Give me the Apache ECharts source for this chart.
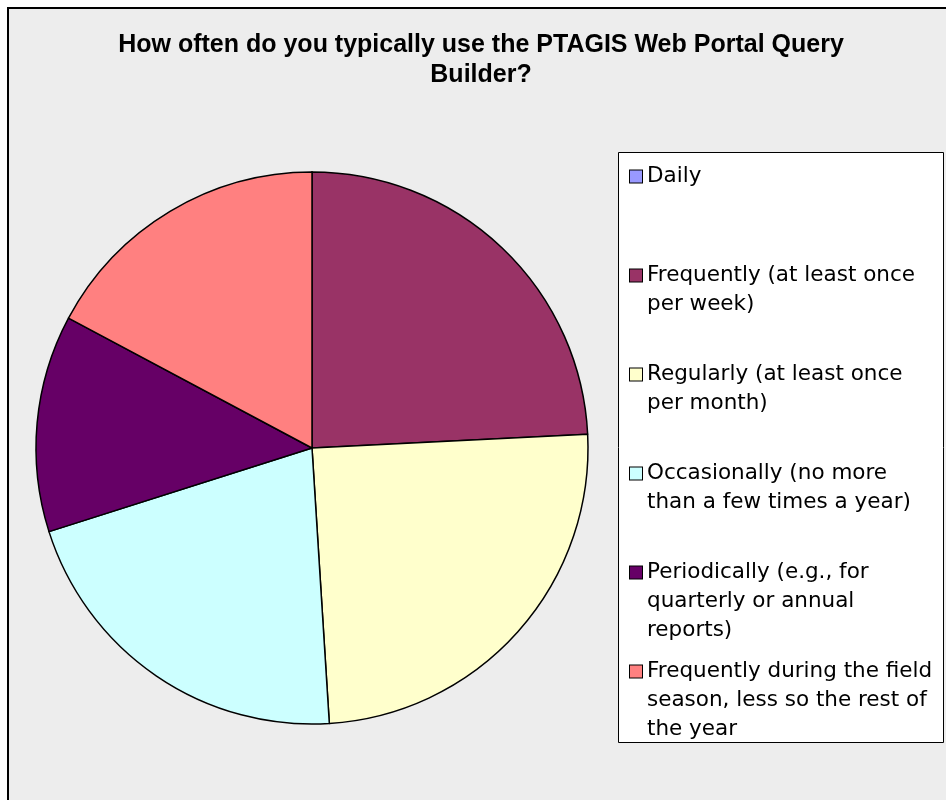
<!DOCTYPE html>
<html>
<head>
<meta charset="utf-8">
<script src="https://cdn.jsdelivr.net/npm/echarts@6/dist/echarts.min.js"></script>
<style>
html,body{margin:0;padding:0;background:#fff;}
#chart{width:946px;height:800px;}
</style>
</head>
<body>
<div id="chart"></div>
<script>
const titleText = 'How often do you typically use the PTAGIS Web Portal Query\nBuilder?';
const categories = [
  'Daily',
  'Frequently (at least once per week)',
  'Regularly (at least once per month)',
  'Occasionally (no more than a few times a year)',
  'Periodically (e.g., for quarterly or annual reports)',
  'Frequently during the field season, less so the rest of the year'
];
const legendLines = [
  ['Daily'],
  ['Frequently (at least once', 'per week)'],
  ['Regularly (at least once', 'per month)'],
  ['Occasionally (no more', 'than a few times a year)'],
  ['Periodically (e.g., for', 'quarterly or annual', 'reports)'],
  ['Frequently during the field', 'season, less so the rest of', 'the year']
];
const values = [0, 24.2, 24.8, 21.1, 12.7, 17.2];
const colors = ['#9999FF', '#993366', '#FFFFCC', '#CCFFFF', '#660066', '#FF8080'];

const chart = echarts.init(document.getElementById('chart'), null, {renderer: 'canvas'});

const legendFont = 'DejaVu Sans';
const rich = {
  gap: {width: 5, height: 12},
  ind: {width: 17, height: 12},
  t: {fontSize: 21.5, lineHeight: 29, fontFamily: legendFont, color: '#000'}
};
colors.forEach((c, i) => {
  rich['s' + i] = {width: 12, height: 12, backgroundColor: c, borderColor: '#000', borderWidth: 1, lineHeight: 29};
});

const option = {
  backgroundColor: '#ffffff',
  animation: false,
  graphic: [
    {type: 'rect', z: -10, shape: {x: 8, y: 8, width: 960, height: 820},
     style: {fill: '#ededed', stroke: '#000', lineWidth: 2}},
    {type: 'rect', z: 0, shape: {x: 618.5, y: 152.5, width: 325, height: 590},
     style: {fill: '#ffffff', stroke: '#000', lineWidth: 1}}
  ],
  title: {
    text: titleText,
    left: 481,
    textAlign: 'center',
    top: 30,
    padding: 0,
    textStyle: {fontFamily: 'Liberation Sans', fontWeight: 'bold', fontSize: 25, lineHeight: 30, color: '#000'}
  },
  legend: {
    orient: 'vertical',
    left: 618,
    top: 152,
    padding: [10, 10, 6, 7],
    itemGap: 12,
    itemWidth: 0,
    itemHeight: 0,
    icon: 'rect',
    itemStyle: {opacity: 0, borderWidth: 0},
    selectedMode: false,
    data: categories,
    formatter: function (name) {
      const idx = categories.indexOf(name);
      const lines = legendLines[idx].slice();
      while (lines.length < 3) lines.push(' ');
      return lines.map((l, i) => (i === 0 ? '{s' + idx + '|}{gap|}' : '{ind|}') + '{t|' + l + '}').join('\n');
    },
    textStyle: {rich: rich, fontSize: 21.5, lineHeight: 29, fontFamily: legendFont}
  },
  series: [{
    type: 'pie',
    center: [312, 448],
    radius: 276,
    startAngle: 90,
    clockwise: true,
    avoidLabelOverlap: false,
    label: {show: false},
    labelLine: {show: false},
    emphasis: {disabled: true},
    itemStyle: {borderColor: '#000', borderWidth: 1.5},
    data: categories.map((c, i) => ({name: c, value: values[i], itemStyle: {color: colors[i]}}))
  }]
};
chart.setOption(option);
</script>
</body>
</html>
